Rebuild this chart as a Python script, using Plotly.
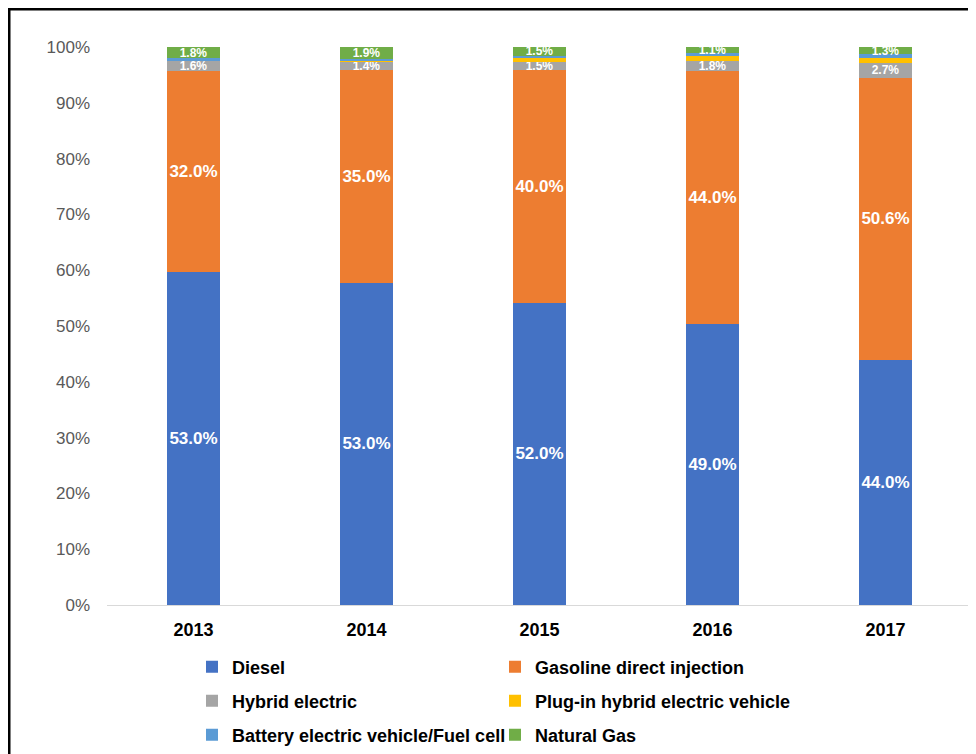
import plotly.graph_objects as go

years = ["2013", "2014", "2015", "2016", "2017"]
diesel = [53.0, 53.0, 52.0, 49.0, 44.0]
gasoline = [32.0, 35.0, 40.0, 44.0, 50.6]
hybrid = [1.6, 1.4, 1.5, 1.8, 2.7]
plugin = [0.1, 0.2, 0.6, 0.8, 0.9]
battery = [0.3, 0.3, 0.4, 0.5, 0.6]
natgas = [1.8, 1.9, 1.5, 1.1, 1.3]

# name, values, colour, labelled, legend row
series = [
    ("Diesel", diesel, "#4472C4", True, "legend"),
    ("Gasoline direct injection", gasoline, "#ED7D31", True, "legend"),
    ("Hybrid electric", hybrid, "#A5A5A5", True, "legend2"),
    ("Plug-in hybrid electric vehicle", plugin, "#FFC000", False, "legend2"),
    ("Battery electric vehicle/Fuel cell", battery, "#5B9BD5", False, "legend3"),
    ("Natural Gas", natgas, "#70AD47", True, "legend3"),
]

FONT = "Liberation Sans, Arial, sans-serif"

fig = go.Figure()
for name, vals, color, labeled, leg in series:
    fig.add_trace(go.Bar(
        name=name, x=years, y=vals, legend=leg,
        marker=dict(color=color, line=dict(width=0)),
        text=[f"{v:.1f}%" for v in vals] if labeled else None,
        texttemplate="%{text}" if labeled else None,
        textposition="inside" if labeled else "none",
        insidetextanchor="middle",
        textangle=0,
        constraintext="none",
        textfont=dict(family=FONT, color="white", weight="bold",
                      size=[17 if v >= 5 else 12 for v in vals]),
    ))

W, H = 968, 746
L, R, T, B = 99, 4, 39, 149
pw, ph = W - L - R, H - T - B


def px_x(x):
    return (x - L) / pw


def px_y(y):
    return 1 - (y - T) / ph


leg_common = dict(
    orientation="h", xanchor="left", yanchor="middle",
    entrywidth=258, entrywidthmode="pixels",
    font=dict(family=FONT, size=18, color="#000000", weight="bold"),
    traceorder="normal", itemwidth=30,
    bgcolor="rgba(0,0,0,0)",
)

fig.update_layout(
    width=W, height=H,
    barmode="stack", barnorm="percent", bargap=0.69,
    margin=dict(l=L, r=R, t=T, b=B, autoexpand=False),
    paper_bgcolor="white", plot_bgcolor="white",
    font=dict(family=FONT, color="#000000"),
    xaxis=dict(
        showline=True, linecolor="#D9D9D9", linewidth=1,
        ticks="", showgrid=False,
        tickfont=dict(family=FONT, size=18, color="#000000", weight="bold"),
        ticklabelstandoff=8,
    ),
    yaxis=dict(
        range=[0, 100], dtick=10, ticksuffix="%",
        showgrid=False, zeroline=False, showline=False, ticks="",
        tickfont=dict(family=FONT, size=17, color="#595959"),
        ticklabelstandoff=16,
    ),
    legend=dict(leg_common, x=px_x(184), y=px_y(659)),
    legend2=dict(leg_common, x=px_x(184), y=px_y(693)),
    legend3=dict(leg_common, x=px_x(184), y=px_y(727)),
    showlegend=True,
    shapes=[
        dict(type="line", xref="paper", yref="paper",
             x0=px_x(0), x1=px_x(W + 10), y0=px_y(1), y1=px_y(1),
             line=dict(color="black", width=3)),
        dict(type="line", xref="paper", yref="paper",
             x0=px_x(1), x1=px_x(1), y0=px_y(0), y1=px_y(H + 10),
             line=dict(color="black", width=3)),
    ],
)

fig.write_html("out.html")
